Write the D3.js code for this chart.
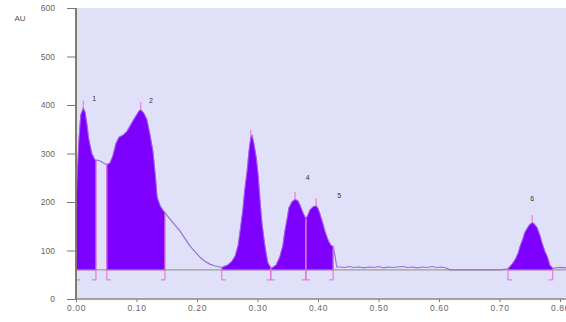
<!DOCTYPE html>
<html>
<head>
<meta charset="utf-8">
<script src="https://cdn.jsdelivr.net/npm/d3@7"></script>
<style>
  body { margin: 0; background: #fff; }
  svg { display: block; font-family: "Liberation Sans", Arial, sans-serif; }
</style>
</head>
<body>
<svg width="566" height="322"></svg>
<script>
// detector trace (time in min, AU)
var traceT = [0.000, 0.002, 0.005, 0.008, 0.012, 0.015, 0.018, 0.021, 0.026, 0.031,
  0.036, 0.041, 0.046, 0.051, 0.056, 0.061, 0.066, 0.071, 0.078, 0.084,
  0.091, 0.098, 0.104, 0.107, 0.112, 0.117, 0.122, 0.127, 0.131, 0.134,
  0.139, 0.144, 0.147, 0.155, 0.164, 0.172, 0.180, 0.188, 0.197, 0.205,
  0.213, 0.221, 0.230, 0.238, 0.241, 0.251, 0.258, 0.263, 0.268, 0.271,
  0.276, 0.279, 0.283, 0.286, 0.289, 0.291, 0.294, 0.298, 0.301, 0.304,
  0.307, 0.311, 0.314, 0.317, 0.321, 0.324, 0.331, 0.337, 0.342, 0.345,
  0.349, 0.352, 0.357, 0.362, 0.367, 0.370, 0.375, 0.380, 0.383, 0.387,
  0.392, 0.397, 0.400, 0.403, 0.408, 0.412, 0.417, 0.421, 0.425, 0.428,
  0.431, 0.436, 0.444, 0.452, 0.460, 0.468, 0.476, 0.484, 0.492, 0.500,
  0.508, 0.516, 0.524, 0.532, 0.540, 0.548, 0.556, 0.564, 0.572, 0.580,
  0.588, 0.596, 0.604, 0.612, 0.618, 0.701, 0.714, 0.721, 0.726, 0.731,
  0.734, 0.739, 0.742, 0.747, 0.750, 0.754, 0.757, 0.762, 0.767, 0.770,
  0.775, 0.779, 0.783, 0.788, 0.793, 0.800, 0.810];
var traceV = [200, 250, 330, 380, 393, 385, 360, 330, 300, 287,
  286, 284, 280, 277, 280, 295, 320, 333, 338, 345,
  360, 375, 387, 390, 383, 370, 340, 305, 255, 210,
  192, 182, 178, 165, 152, 140, 125, 110, 97, 86,
  78, 72, 68, 66, 65, 70, 78, 88, 110, 137,
  185, 225, 265, 305, 333, 337, 320, 290, 255, 205,
  160, 120, 95, 75, 66, 64, 70, 87, 110, 137,
  165, 188, 200, 205, 202, 194, 178, 165, 172, 184,
  190, 192, 186, 176, 155, 137, 120, 111, 108, 90,
  66, 66, 65, 67, 65, 66, 64, 66, 65, 67,
  64, 66, 65, 66, 67, 65, 66, 64, 66, 65,
  67, 65, 66, 64, 60, 60, 62, 72, 81, 95,
  108, 125, 137, 148, 153, 157, 155, 147, 130, 116,
  98, 87, 70, 63, 64, 65, 64];

var baselineAU = 60;

// integrated peaks
var peakStart = [0.000, 0.051, 0.241, 0.322, 0.380, 0.714];
var peakEnd   = [0.033, 0.147, 0.322, 0.380, 0.425, 0.788];
var apexT     = [0.012, 0.107, 0.289, 0.362, 0.397, 0.754];
var peakNames = ["1", "2", "", "4", "5", "6"];
var labelT    = [0.030, 0.124, 0.300, 0.383, 0.435, 0.754];
var labelV    = [414, 410, 360, 250, 213, 207];

var xTicks = [0, 0.1, 0.2, 0.3, 0.4, 0.5, 0.6, 0.7, 0.8];
var yTicks = [0, 100, 200, 300, 400, 500, 600];

var svg = d3.select("svg");
var plotRight = 566;

var x = d3.scaleLinear().domain([0, 0.8]).range([76, 560]);
var y = d3.scaleLinear().domain([0, 600]).range([299, 8]);

var trace = traceT.map(function(t, i) { return { t: t, v: traceV[i] }; });

function valueAt(t) {
  for (var i = 1; i < trace.length; i++) {
    if (trace[i].t >= t) {
      var a = trace[i - 1], b = trace[i];
      var k = (t - a.t) / (b.t - a.t || 1);
      return a.v + k * (b.v - a.v);
    }
  }
  return trace[trace.length - 1].v;
}

svg.append("defs").append("clipPath").attr("id", "clip")
  .append("rect").attr("x", 76).attr("y", 8).attr("width", plotRight - 76).attr("height", 291);

// plot background
svg.append("rect")
  .attr("x", 76).attr("y", 8)
  .attr("width", plotRight - 76).attr("height", 291)
  .attr("fill", "#e1e0f9");

var plot = svg.append("g").attr("clip-path", "url(#clip)");

// trace line
var line = d3.line().x(function(d) { return x(d.t); }).y(function(d) { return y(d.v); });
plot.append("path")
  .datum(trace)
  .attr("d", line)
  .attr("fill", "none")
  .attr("stroke", "#9a6fd6")
  .attr("stroke-width", 1.2);

// filled peaks
var area = d3.area()
  .x(function(d) { return x(d.t); })
  .y0(y(baselineAU))
  .y1(function(d) { return y(d.v); });

peakStart.forEach(function(s, i) {
  var e = peakEnd[i];
  var pts = [{ t: s, v: valueAt(s) }]
    .concat(trace.filter(function(d) { return d.t > s && d.t < e; }))
    .concat([{ t: e, v: valueAt(e) }]);
  plot.append("path")
    .datum(pts)
    .attr("d", area)
    .attr("fill", "#7d00ff")
    .attr("stroke", "#b060f0")
    .attr("stroke-width", 0.8)
    .attr("stroke-linejoin", "round");
});

// baseline
plot.append("line")
  .attr("x1", 76).attr("x2", plotRight)
  .attr("y1", y(baselineAU)).attr("y2", y(baselineAU))
  .attr("stroke", "#8c8c84")
  .attr("stroke-width", 1);

var pink = "#e46ad8";

// peak boundary brackets
var bounds = [];
peakStart.forEach(function(s, i) {
  bounds.push({ t: s, dir: 1 });
  bounds.push({ t: peakEnd[i], dir: -1 });
});
bounds.forEach(function(b) {
  var bx = x(b.t);
  plot.append("line")
    .attr("x1", bx).attr("x2", bx)
    .attr("y1", y(valueAt(b.t))).attr("y2", y(baselineAU) + 10)
    .attr("stroke", pink).attr("stroke-width", 1);
  plot.append("line")
    .attr("x1", bx).attr("x2", bx + 4 * b.dir)
    .attr("y1", y(baselineAU) + 10).attr("y2", y(baselineAU) + 10)
    .attr("stroke", pink).attr("stroke-width", 1);
});

// apex markers
apexT.forEach(function(t) {
  var v = valueAt(t);
  plot.append("line")
    .attr("x1", x(t)).attr("x2", x(t))
    .attr("y1", y(v)).attr("y2", y(v + 16))
    .attr("stroke", pink).attr("stroke-width", 1);
});

// peak numbers
peakNames.forEach(function(n, i) {
  if (!n) return;
  svg.append("text")
    .attr("x", x(labelT[i])).attr("y", y(labelV[i]))
    .attr("text-anchor", "middle")
    .attr("dy", "0.35em")
    .attr("font-size", 7)
    .attr("fill", "#333")
    .text(n);
});

// axes
var yAxis = d3.axisLeft(y).tickValues(yTicks).tickSize(9).tickPadding(12).tickFormat(d3.format("d"));
var gy = svg.append("g").attr("transform", "translate(76,0)").call(yAxis);
var xAxis = d3.axisBottom(x).tickValues(xTicks).tickSize(3).tickPadding(3).tickFormat(d3.format(".2f"));
var gx = svg.append("g").attr("transform", "translate(0,299)").call(xAxis);

[gx, gy].forEach(function(g) {
  g.select(".domain").remove();
  g.selectAll(".tick line").attr("stroke", "#777");
  g.selectAll(".tick text").attr("fill", "#666").attr("font-size", 8.5)
    .attr("font-family", "Liberation Sans, Arial, sans-serif");
});
gx.selectAll(".tick text").attr("letter-spacing", 0.6);

svg.append("line")
  .attr("x1", 76).attr("x2", plotRight).attr("y1", 299).attr("y2", 299)
  .attr("stroke", "#8a8a7a").attr("stroke-width", 1.5);
svg.append("line")
  .attr("x1", 76).attr("x2", 76).attr("y1", 8).attr("y2", 300)
  .attr("stroke", "#7e7e68").attr("stroke-width", 2);

svg.append("text")
  .attr("x", 20).attr("y", 21)
  .attr("text-anchor", "middle")
  .attr("font-size", 8)
  .attr("fill", "#555")
  .text("AU");
</script>
</body>
</html>
